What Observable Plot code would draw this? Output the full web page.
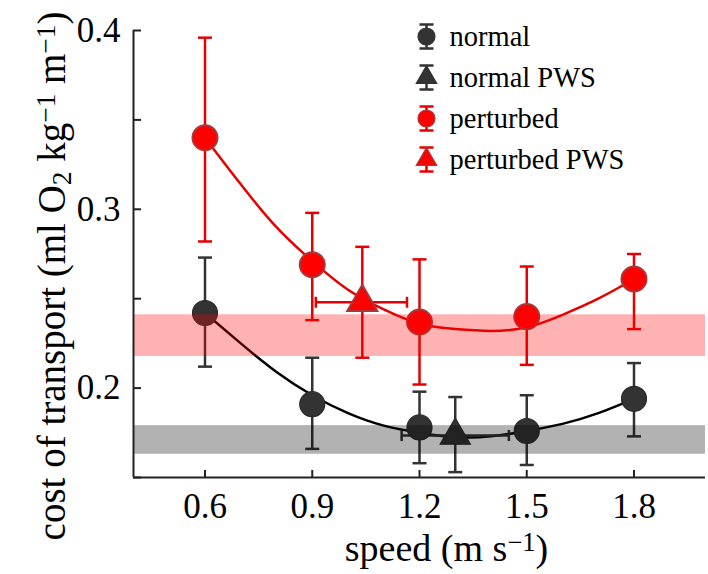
<!DOCTYPE html>
<html><head><meta charset="utf-8">
<script src="https://cdn.jsdelivr.net/npm/d3@7"></script>
<script src="https://cdn.jsdelivr.net/npm/@observablehq/plot@0.6"></script>
<style>
html,body{margin:0;padding:0;background:#fff}
#chart svg{display:block}
</style>
</head><body><div id="chart"></div>
<script>
// ---- data ----
const speeds = [0.6, 0.9, 1.2, 1.5, 1.8];
const normalMean = [0.242, 0.191, 0.178, 0.176, 0.194];
const normalLow  = [0.212, 0.166, 0.158, 0.157, 0.173];
const normalHigh = [0.273, 0.217, 0.198, 0.196, 0.214];
const perturbedMean = [0.340, 0.269, 0.237, 0.240, 0.261];
const perturbedLow  = [0.282, 0.238, 0.202, 0.213, 0.233];
const perturbedHigh = [0.396, 0.298, 0.272, 0.268, 0.275];

// preferred walking speed (PWS)
const pwsSpeed     = [1.30, 1.04];   // normal, perturbed
const pwsSpeedLow  = [1.15, 0.91];
const pwsSpeedHigh = [1.45, 1.165];
const pwsCot       = [0.1735, 0.248];
const pwsCotLow    = [0.153, 0.217];
const pwsCotHigh   = [0.195, 0.279];

// fitted curves
const curveSpeeds   = [0.6, 0.7, 0.8, 0.9, 1.0, 1.1, 1.2, 1.3, 1.4, 1.5, 1.6, 1.7, 1.8];
const normalCurve   = [0.242, 0.225, 0.209, 0.196, 0.186, 0.179, 0.175, 0.1725, 0.173, 0.176, 0.180, 0.186, 0.194];
const perturbedCurve= [0.340, 0.314, 0.290, 0.271, 0.255, 0.244, 0.236, 0.233, 0.232, 0.234, 0.241, 0.250, 0.261];

// horizontal reference bands (cot range)
const bandLow  = [0.163, 0.2177];  // normal, perturbed
const bandHigh = [0.179, 0.241];

const xDomain = [0.4, 2.0];
const yDomain = [0.15, 0.4];
const xTicks = [0.6, 0.9, 1.2, 1.5, 1.8];
const yTickLabels = [0.2, 0.3, 0.4];
const yTicks = [0.15, 0.2, 0.25, 0.3, 0.35, 0.4];
const legendLabels = ["normal", "normal PWS", "perturbed", "perturbed PWS"];
const xLabel = "speed (m s-1)";
const yLabel = "cost of transport (ml O2 kg-1 m-1)";

// ---- styles ----
const W = 708, H = 574;
const M = {top: 30, right: 3, bottom: 97, left: 133};
const plotW = W - M.left - M.right, plotH = H - M.top - M.bottom;
const dark = "#333333", red = "#e60000", redFill = "#ff0000", redEdge = "#a8383a";

const cap = {draw(ctx) { ctx.moveTo(-7, 0); ctx.lineTo(7, 0); }};
const vcap = {draw(ctx) { ctx.moveTo(0, -5.5); ctx.lineTo(0, 5.5); }};
const legendBar = {draw(ctx) {
  ctx.moveTo(0, -12); ctx.lineTo(0, 12);
  ctx.moveTo(-7, -12); ctx.lineTo(7, -12);
  ctx.moveTo(-7, 12); ctx.lineTo(7, 12);
}};

const rows = (mean, lo, hi) => speeds.map((s, i) => ({speed: s, cot: mean[i], low: lo[i], high: hi[i]}));
const normalRows = rows(normalMean, normalLow, normalHigh);
const perturbedRows = rows(perturbedMean, perturbedLow, perturbedHigh);
const pwsRows = pwsSpeed.map((s, i) => ({speed: s, sLow: pwsSpeedLow[i], sHigh: pwsSpeedHigh[i], cot: pwsCot[i], low: pwsCotLow[i], high: pwsCotHigh[i]}));
const curveRows = (ys) => curveSpeeds.map((s, i) => ({speed: s, cot: ys[i]}));
const bands = bandLow.map((l, i) => ({y1: l, y2: bandHigh[i]}));

function errorMarks(data, color) {
  return [
    Plot.ruleX(data, {x: "speed", y1: "low", y2: "high", stroke: color, strokeWidth: 2.5}),
    Plot.dot(data, {x: "speed", y: "low", symbol: cap, stroke: color, fill: "none", strokeWidth: 2.5}),
    Plot.dot(data, {x: "speed", y: "high", symbol: cap, stroke: color, fill: "none", strokeWidth: 2.5})
  ];
}
function hErrorMarks(data, color) {
  return [
    Plot.ruleY(data, {y: "cot", x1: "sLow", x2: "sHigh", stroke: color, strokeWidth: 2.5}),
    Plot.dot(data, {x: "sLow", y: "cot", symbol: vcap, stroke: color, fill: "none", strokeWidth: 2.5}),
    Plot.dot(data, {x: "sHigh", y: "cot", symbol: vcap, stroke: color, fill: "none", strokeWidth: 2.5})
  ];
}

const legendStyle = [
  {color: dark, symbol: "circle", fill: dark, edge: dark, r: 8.5},
  {color: dark, symbol: "triangle", fill: dark, edge: dark, r: 7.6},
  {color: red, symbol: "circle", fill: redFill, edge: redEdge, r: 8.5},
  {color: red, symbol: "triangle", fill: redFill, edge: redEdge, r: 7.6}
];
const legendMarks = legendLabels.flatMap((lab, i) => {
  const st = legendStyle[i];
  const dy = 6 + 41 * i;
  return [
    Plot.dot([0], {frameAnchor: "top-left", dx: 293, dy, symbol: legendBar, stroke: st.color, fill: "none", strokeWidth: 2.5}),
    Plot.dot([0], {frameAnchor: "top-left", dx: 293, dy, symbol: st.symbol, r: st.r, fill: st.fill, stroke: st.edge, strokeWidth: 1.2}),
    Plot.text([lab], {frameAnchor: "top-left", dx: 316, dy, text: d => d, textAnchor: "start", lineAnchor: "middle", fontSize: 28.5, fill: "#000"})
  ];
});

const nP = pwsRows.slice(0, 1), pP = pwsRows.slice(1, 2);

const chart = Plot.plot({
  width: W, height: H,
  marginTop: M.top, marginRight: M.right, marginBottom: M.bottom, marginLeft: M.left,
  style: {fontFamily: "'Liberation Serif', 'Times New Roman', serif", fontSize: "35px", color: "#000", background: "#fff"},
  x: {domain: xDomain},
  y: {domain: yDomain},
  marks: [
    // fitted curves
    Plot.line(curveRows(perturbedCurve), {x: "speed", y: "cot", curve: "natural", stroke: red, strokeWidth: 2.5}),
    Plot.line(curveRows(normalCurve), {x: "speed", y: "cot", curve: "natural", stroke: "#000", strokeWidth: 2.5}),
    // error bars
    ...errorMarks(normalRows, dark),
    ...errorMarks(perturbedRows, red),
    ...errorMarks(nP, dark), ...hErrorMarks(nP, dark),
    ...errorMarks(pP, red), ...hErrorMarks(pP, red),
    // points
    Plot.dot(normalRows, {x: "speed", y: "cot", r: 12.5, fill: dark, stroke: "#2a2a2a", strokeWidth: 1.2}),
    Plot.dot(perturbedRows, {x: "speed", y: "cot", r: 12.5, fill: redFill, stroke: redEdge, strokeWidth: 2}),
    Plot.dot(nP, {x: "speed", y: "cot", symbol: "triangle", r: 11.2, fill: dark, stroke: "#2a2a2a", strokeWidth: 1.2}),
    Plot.dot(pP, {x: "speed", y: "cot", symbol: "triangle", r: 11.2, fill: redFill, stroke: redEdge, strokeWidth: 2}),
    // translucent bands on top
    Plot.rect(bands.slice(0, 1), {y1: "y1", y2: "y2", fill: "#000", fillOpacity: 0.3}),
    Plot.rect(bands.slice(1, 2), {y1: "y1", y2: "y2", fill: "#ff0000", fillOpacity: 0.3}),
    // axes
    Plot.ruleX([xDomain[0]], {stroke: "#222", strokeWidth: 2}),
    Plot.ruleY([yDomain[0]], {stroke: "#222", strokeWidth: 2}),
    Plot.tickY(yTicks, {y: d => d, insetRight: plotW - 8, stroke: "#222", strokeWidth: 2}),
    Plot.tickX(xTicks, {x: d => d, insetTop: plotH - 7, stroke: "#222", strokeWidth: 2}),
    Plot.axisY({ticks: yTickLabels, tickSize: 0, tickPadding: 13, tickFormat: d3.format(".1f"), label: null, fontSize: 35}),
    Plot.axisX({ticks: xTicks, tickSize: 0, tickPadding: 16, tickFormat: d3.format(".1f"), label: null, fontSize: 35}),
    // axis titles
    Plot.text([xLabel], {frameAnchor: "bottom", dx: 27, dy: 83, text: d => d, fontSize: 38, textAnchor: "middle", lineAnchor: "bottom", fill: "#000"}),
    Plot.text([yLabel], {frameAnchor: "left", rotate: -90, dx: -69, dy: 22, text: d => d, fontSize: 39, textAnchor: "middle", lineAnchor: "bottom", fill: "#000"}),
    // legend
    ...legendMarks
  ]
});

// superscripts/subscripts in axis titles
function richText(el, parts) {
  while (el.firstChild) el.removeChild(el.firstChild);
  const ns = "http://www.w3.org/2000/svg";
  for (const [t, kind] of parts) {
    const ts = document.createElementNS(ns, "tspan");
    ts.textContent = t;
    if (kind === "sup") { ts.setAttribute("baseline-shift", "38%"); ts.setAttribute("font-size", "70%"); }
    if (kind === "sub") { ts.setAttribute("baseline-shift", "-22%"); ts.setAttribute("font-size", "70%"); }
    el.appendChild(ts);
  }
}
chart.querySelectorAll("text").forEach(t => {
  if (t.textContent === xLabel) richText(t, [["speed (m s"], ["\u22121", "sup"], [")"]]);
  else if (t.textContent === yLabel) richText(t, [["cost of transport (ml O"], ["2", "sub"], [" kg"], ["\u22121", "sup"], [" m"], ["\u22121", "sup"], [")"]]);
});

document.getElementById("chart").appendChild(chart);
</script>
</body></html>
